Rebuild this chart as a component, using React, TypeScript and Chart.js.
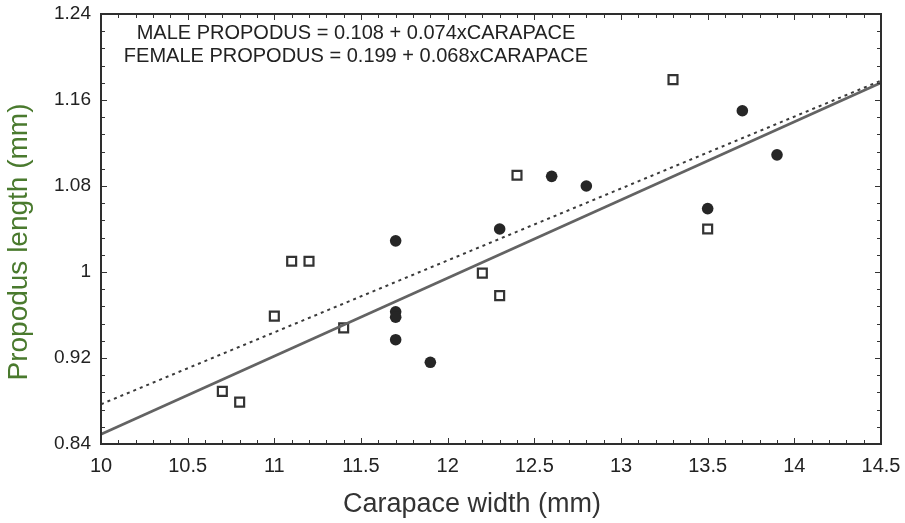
import React, { useEffect, useRef } from "react";
import { Chart, registerables } from "chart.js";

Chart.register(...registerables);

// ---- data ----
const femaleX = [10.7, 10.8, 11.0, 11.1, 11.2, 11.4, 12.2, 12.3, 12.4, 13.3, 13.5];
const femaleY = [0.889, 0.879, 0.959, 1.01, 1.01, 0.948, 0.999, 0.978, 1.09, 1.179, 1.04];

const maleX = [11.7, 11.7, 11.7, 11.7, 11.9, 12.3, 12.6, 12.8, 13.5, 13.7, 13.9];
const maleY = [1.029, 0.963, 0.958, 0.937, 0.916, 1.04, 1.089, 1.08, 1.059, 1.15, 1.109];

const maleLineX = [10, 14.5];
const maleLineY = [0.849, 1.176];
const femaleLineX = [10, 14.5];
const femaleLineY = [0.877, 1.178];

const xTicks = [10, 10.5, 11, 11.5, 12, 12.5, 13, 13.5, 14, 14.5];
const xTickLabels = ["10", "10.5", "11", "11.5", "12", "12.5", "13", "13.5", "14", "14.5"];
const yTicks = [0.84, 0.92, 1.0, 1.08, 1.16, 1.24];
const yTickLabels = ["0.84", "0.92", "1", "1.08", "1.16", "1.24"];

const equationLines = [
  "MALE PROPODUS = 0.108 + 0.074xCARAPACE",
  "FEMALE PROPODUS = 0.199 + 0.068xCARAPACE",
];
const xTitle = "Carapace width (mm)";
const yTitle = "Propodus length (mm)";

const zip = (xs: number[], ys: number[]) => xs.map((x, i) => ({ x, y: ys[i] }));

const framePlugin = {
  id: "framePlugin",
  afterDraw(chart: any) {
    const { ctx, chartArea } = chart;
    const xs = chart.scales.x;
    const ys = chart.scales.y;
    const { left, right, top, bottom } = chartArea;
    ctx.save();
    ctx.strokeStyle = "#333";
    ctx.lineWidth = 1;
    // minor + major ticks inside, all four sides
    for (let i = 0; i <= 45; i++) {
      const v = 10 + i * 0.1;
      const px = Math.round(xs.getPixelForValue(v)) + 0.5;
      const len = i % 5 === 0 ? 6 : 4;
      ctx.beginPath();
      ctx.moveTo(px, bottom);
      ctx.lineTo(px, bottom - len);
      ctx.moveTo(px, top);
      ctx.lineTo(px, top + len);
      ctx.stroke();
    }
    for (let i = 0; i <= 25; i++) {
      const v = 0.84 + i * 0.016;
      const py = Math.round(ys.getPixelForValue(v)) + 0.5;
      const len = i % 5 === 0 ? 6 : 4;
      ctx.beginPath();
      ctx.moveTo(left, py);
      ctx.lineTo(left + len, py);
      ctx.moveTo(right, py);
      ctx.lineTo(right - len, py);
      ctx.stroke();
    }
    // frame
    ctx.lineWidth = 2;
    ctx.strokeStyle = "#2e2e2e";
    ctx.strokeRect(left, top, right - left, bottom - top);

    // equations
    ctx.fillStyle = "#222";
    ctx.font = "20px 'Liberation Sans', Arial, sans-serif";
    ctx.textAlign = "center";
    ctx.textBaseline = "middle";
    ctx.fillText(equationLines[0], left + 255, top + 19);
    ctx.fillText(equationLines[1], left + 255, top + 42);

    // axis titles
    ctx.font = "27px 'Liberation Sans', Arial, sans-serif";
    ctx.fillStyle = "#333";
    ctx.fillText(xTitle, left + 371, 505);
    ctx.save();
    ctx.translate(19, 242);
    ctx.rotate(-Math.PI / 2);
    ctx.font = "28px 'Liberation Sans', Arial, sans-serif";
    ctx.fillStyle = "#4a7a2e";
    ctx.fillText(yTitle, 0, 0);
    ctx.restore();
    ctx.restore();
  },
};

export default function App() {
  const ref = useRef<HTMLCanvasElement | null>(null);
  useEffect(() => {
    document.body.style.margin = "0";
    const canvas = ref.current!;
    const chart = new Chart(canvas, {
      type: "scatter",
      data: {
        datasets: [
          {
            type: "line",
            label: "Male fit",
            data: zip(maleLineX, maleLineY),
            borderColor: "#636363",
            borderWidth: 2.8,
            pointRadius: 0,
            fill: false,
          } as any,
          {
            type: "line",
            label: "Female fit",
            data: zip(femaleLineX, femaleLineY),
            borderColor: "#3a3a3a",
            borderWidth: 2,
            borderDash: [3, 4],
            pointRadius: 0,
            fill: false,
          } as any,
          {
            label: "Female",
            data: zip(femaleX, femaleY),
            pointStyle: "rect",
            pointRadius: 6.3,
            borderWidth: 2.2,
            borderColor: "#333",
            backgroundColor: "#fff",
          },
          {
            label: "Male",
            data: zip(maleX, maleY),
            pointStyle: "circle",
            pointRadius: 5.8,
            borderWidth: 0,
            backgroundColor: "#262626",
          },
        ],
      },
      options: {
        animation: false,
        responsive: false,
        devicePixelRatio: 1,
        layout: { padding: { left: 0, right: 24, top: 14, bottom: 0 } },
        plugins: {
          legend: { display: false },
          tooltip: { enabled: false },
        },
        scales: {
          x: {
            type: "linear",
            min: 10,
            max: 14.5,
            afterBuildTicks: (s: any) => {
              s.ticks = xTicks.map((v) => ({ value: v }));
            },
            afterFit: (s: any) => {
              s.height = 79;
              s.paddingLeft = 0;
              s.paddingRight = 0;
            },
            ticks: {
              callback: (_v: any, i: number) => xTickLabels[i],
              color: "#222",
              font: { size: 20, family: "'Liberation Sans', Arial, sans-serif" },
              padding: 10,
              maxRotation: 0,
              autoSkip: false,
            },
            grid: { display: false, drawTicks: false },
            border: { display: false },
          },
          y: {
            type: "linear",
            min: 0.84,
            max: 1.24,
            afterBuildTicks: (s: any) => {
              s.ticks = yTicks.map((v) => ({ value: v }));
            },
            afterFit: (s: any) => {
              s.width = 101;
              s.paddingTop = 0;
              s.paddingBottom = 0;
            },
            ticks: {
              callback: (_v: any, i: number) => yTickLabels[i],
              color: "#222",
              font: { size: 19, family: "'Liberation Sans', Arial, sans-serif" },
              padding: 10,
              autoSkip: false,
            },
            grid: { display: false, drawTicks: false },
            border: { display: false },
          },
        },
      },
      plugins: [framePlugin],
    });
    return () => chart.destroy();
  }, []);
  return (
    <div style={{ position: "fixed", left: 0, top: 0, width: 905, height: 523, background: "#fff" }}>
      <canvas ref={ref} width={905} height={523} />
    </div>
  );
}
